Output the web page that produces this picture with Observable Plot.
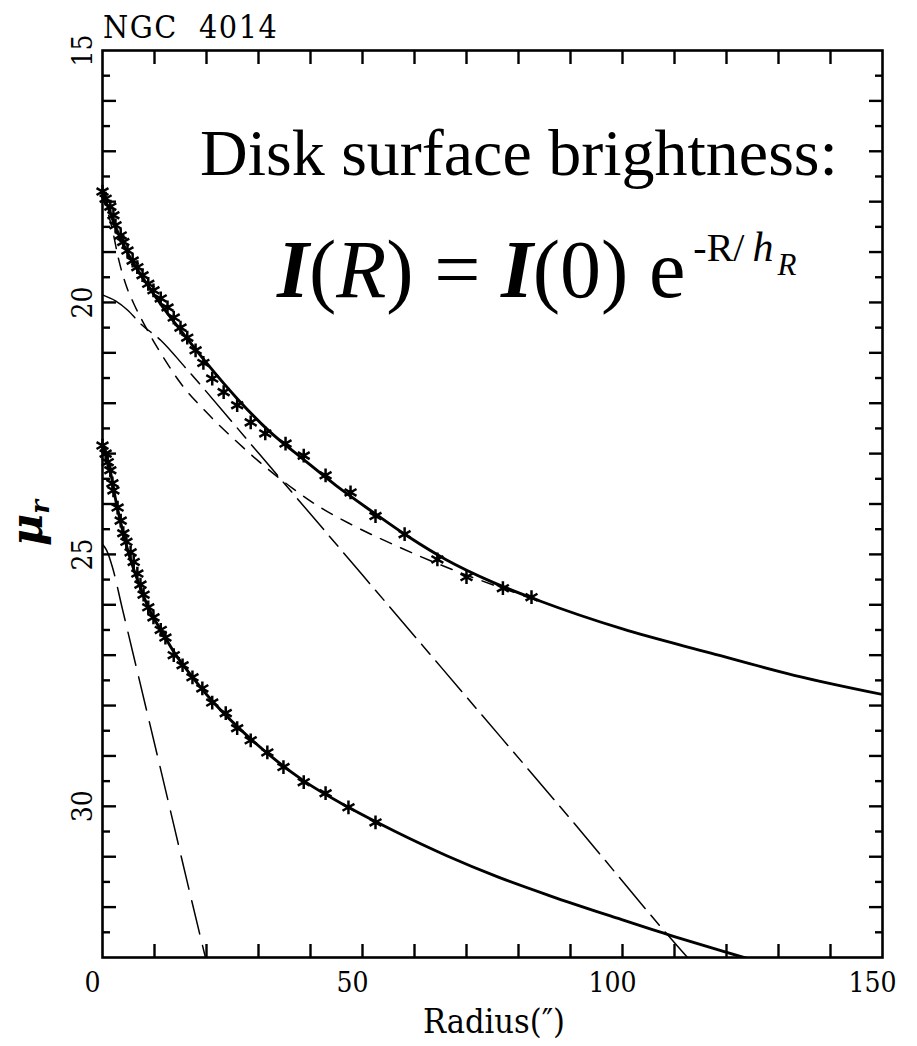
<!DOCTYPE html>
<html><head><meta charset="utf-8">
<script src="https://cdn.jsdelivr.net/npm/d3@7"></script>
<script src="https://cdn.jsdelivr.net/npm/@observablehq/plot@0.6"></script>
<style>body{margin:0;background:#fff}</style>
</head><body>
<div id="chart"></div>
<script>
// ---- text ----
const galaxyName = "NGC  4014";
const annotationLine = "Disk surface brightness:";
const xTitle = "Radius(\u2033)";
const xLabels = [0, 50, 100, 150];
const yLabels = [15, 20, 25, 30];

// ---- upper profile: measured points (crosses) ----
const upperDataR  = [0.0, 0.6, 1.5, 2.1, 2.5, 3.5, 4.0, 4.8, 5.8, 6.7, 7.7, 8.8, 9.8, 11.2, 12.5, 13.7, 15.0, 16.3, 17.9, 19.4, 21.1, 23.3, 25.9, 28.5, 31.3, 35.2, 38.7, 42.9, 47.7, 52.5, 58.1, 64.4, 70.0, 77.0, 82.5];
const upperDataMu = [17.80, 17.94, 18.10, 18.27, 18.47, 18.67, 18.80, 18.97, 19.17, 19.30, 19.46, 19.63, 19.76, 19.92, 20.10, 20.30, 20.50, 20.70, 20.95, 21.20, 21.51, 21.78, 22.04, 22.38, 22.60, 22.80, 23.04, 23.43, 23.77, 24.24, 24.60, 25.10, 25.45, 25.67, 25.85];
// upper total fit (solid)
const upperFitR  = [0, 2.5, 5, 8, 11.5, 15, 20, 26, 32, 38.7, 45, 52, 59, 66, 75, 84, 100, 117, 133, 150];
const upperFitMu = [17.8, 18.5, 19.05, 19.55, 20.08, 20.55, 21.2, 21.92, 22.55, 23.12, 23.64, 24.16, 24.66, 25.1, 25.55, 25.92, 26.48, 26.96, 27.4, 27.78];
// upper bulge component (short dashes)
const upperBulgeR  = [0, 1, 2, 3, 4.5, 6, 8, 10, 12.5, 15, 20, 26, 30, 36.7, 41.3, 47.7, 56.7, 68.7, 77.7, 84];
const upperBulgeMu = [17.85, 18.2, 18.6, 19.1, 19.65, 20.02, 20.43, 20.8, 21.22, 21.6, 22.18, 22.78, 23.15, 23.7, 24.03, 24.4, 24.84, 25.36, 25.7, 25.93];
// upper disk component (long dashes)
const upperDiskR  = [0, 2.5, 4.8, 7.3, 11.2, 16, 30, 50, 70, 90, 112.5, 116];
const upperDiskMu = [19.85, 19.97, 20.15, 20.42, 20.75, 21.3, 22.99, 25.41, 27.83, 30.25, 33.0, 33.4];

// ---- lower profile ----
const lowerDataR  = [0.0, 0.6, 1.0, 1.5, 1.9, 2.1, 2.9, 3.5, 4.0, 4.6, 5.4, 6.0, 6.7, 7.3, 7.9, 8.8, 9.8, 11.2, 12.1, 13.7, 15.4, 17.3, 19.2, 21.1, 23.7, 25.9, 28.5, 31.7, 34.8, 38.7, 42.9, 47.3, 52.5];
const lowerDataMu = [22.84, 23.00, 23.17, 23.33, 23.59, 23.73, 24.07, 24.33, 24.58, 24.75, 24.96, 25.15, 25.38, 25.60, 25.80, 26.05, 26.25, 26.50, 26.65, 27.00, 27.20, 27.44, 27.66, 27.94, 28.15, 28.45, 28.69, 28.93, 29.22, 29.52, 29.74, 30.02, 30.32];
const lowerFitR  = [0, 0.6, 1.5, 2.5, 3.8, 5, 6.7, 8.8, 11.5, 14, 16, 21.2, 28.8, 38.5, 47.3, 56.3, 66.2, 76, 86.2, 99, 109.8, 119.4, 123, 126];
const lowerFitMu = [22.85, 23.0, 23.35, 23.9, 24.5, 24.97, 25.5, 26.05, 26.55, 26.98, 27.26, 27.92, 28.69, 29.48, 30.02, 30.5, 30.98, 31.4, 31.78, 32.22, 32.58, 32.88, 32.99, 33.08];
const lowerDashR  = [0, 0.8, 1.9, 3.8, 10.8, 19.8, 21];
const lowerDashMu = [24.8, 24.92, 25.25, 26.07, 29.1, 33.0, 33.5];

const serif = "'DejaVu Serif Condensed', 'DejaVu Serif', serif";
const times = "'Liberation Serif', 'Times New Roman', serif";
const xMinor = d3.range(10, 150, 10);
const yMajor = d3.range(16, 33, 1);
const yMinor = d3.range(15.5, 33, 1);

const tickStyle = {stroke: "black", strokeWidth: 2.4, tickFormat: () => ""};

const svg = Plot.plot({
  width: 917, height: 1046,
  marginLeft: 102, marginRight: 35, marginTop: 50, marginBottom: 89,
  x: {domain: [0, 150]},
  y: {domain: [15, 33], reverse: true},
  style: {background: "white", fontFamily: serif, color: "black", overflow: "visible"},
  marks: [
    // components
    Plot.line(upperDiskR, {x: upperDiskR, y: upperDiskMu, stroke: "black", strokeWidth: 1.5, strokeDasharray: "40,9,13,9", curve: "monotone-x", clip: true}),
    Plot.line(upperBulgeR, {x: upperBulgeR, y: upperBulgeMu, stroke: "black", strokeWidth: 1.5, strokeDasharray: "12,10", curve: "monotone-x", clip: true}),
    Plot.line(lowerDashR, {x: lowerDashR, y: lowerDashMu, stroke: "black", strokeWidth: 1.5, strokeDasharray: "34,12", curve: "monotone-x", clip: true}),
    // total fits
    Plot.line(upperFitR, {x: upperFitR, y: upperFitMu, stroke: "black", strokeWidth: 2.9, curve: "monotone-x", clip: true}),
    Plot.line(lowerFitR, {x: lowerFitR, y: lowerFitMu, stroke: "black", strokeWidth: 2.9, curve: "monotone-x", clip: true}),
    // data
    Plot.dot(upperDataR, {x: upperDataR, y: upperDataMu, symbol: "asterisk", r: 6.5, stroke: "black", strokeWidth: 2.5}),
    Plot.dot(lowerDataR, {x: lowerDataR, y: lowerDataMu, symbol: "asterisk", r: 6.5, stroke: "black", strokeWidth: 2.5}),
    // frame + inward ticks
    Plot.frame({stroke: "black", strokeWidth: 2.6}),
    Plot.axisX(xMinor, {anchor: "bottom", tickSize: -13, ...tickStyle}),
    Plot.axisX(xMinor, {anchor: "top", tickSize: -13, ...tickStyle}),
    Plot.axisY(yMajor, {anchor: "left", tickSize: -14, ...tickStyle}),
    Plot.axisY(yMinor, {anchor: "left", tickSize: -8, ...tickStyle}),
    Plot.axisY(yMajor, {anchor: "right", tickSize: -14, ...tickStyle}),
    Plot.axisY(yMinor, {anchor: "right", tickSize: -8, ...tickStyle}),
    // tick labels
    Plot.text(xLabels, {x: d => d, frameAnchor: "bottom", dy: 26, dx: -10, text: d => String(d), fontSize: 28, fontFamily: serif, lineAnchor: "middle"}),
    Plot.text(yLabels, {y: d => d, frameAnchor: "left", dx: -19, text: d => String(d), fontSize: 28, fontFamily: serif, rotate: -90, textAnchor: "middle", lineAnchor: "middle"})
  ]
});

document.getElementById("chart").appendChild(svg);

// ---- annotations ----
const s = d3.select(svg);
s.append("text").attr("x", 103).attr("y", 38).attr("text-anchor", "start")
  .attr("font-family", serif).attr("font-size", 32).attr("letter-spacing", 1.5)
  .style("white-space", "pre")
  .text(galaxyName);

s.append("text").attr("x", 200).attr("y", 175).attr("text-anchor", "start")
  .attr("font-family", times).attr("font-size", 66)
  .text(annotationLine);

const f = s.append("text").attr("x", 277).attr("y", 297).attr("text-anchor", "start")
  .attr("font-family", times).attr("font-size", 82)
  .style("white-space", "pre");
f.append("tspan").attr("font-style", "italic").attr("font-weight", "bold").text("I");
f.append("tspan").text("(");
f.append("tspan").attr("font-style", "italic").text("R");
f.append("tspan").text(") = ");
f.append("tspan").attr("font-style", "italic").attr("font-weight", "bold").text("I");
f.append("tspan").text("(0) e");
f.append("tspan").attr("font-size", 40).attr("dx", 8).attr("dy", -36).text("-R/");
f.append("tspan").attr("font-size", 42).attr("font-style", "italic").attr("dx", 8).text("h");
f.append("tspan").attr("font-size", 31).attr("font-style", "italic").attr("dx", 4).attr("dy", 14).text("R");

const yl = s.append("text").attr("transform", "translate(42,523) rotate(-90)")
  .attr("text-anchor", "middle").attr("font-family", "'DejaVu Serif', serif")
  .attr("font-weight", "bold").attr("font-style", "italic").attr("font-size", 44);
yl.append("tspan").text("\u03bc");
yl.append("tspan").attr("font-size", 26).attr("dy", 7).text("r");

s.append("text").attr("x", 494).attr("y", 1033).attr("text-anchor", "middle")
  .attr("font-family", serif).attr("font-size", 34)
  .text(xTitle);
</script>
</body></html>
